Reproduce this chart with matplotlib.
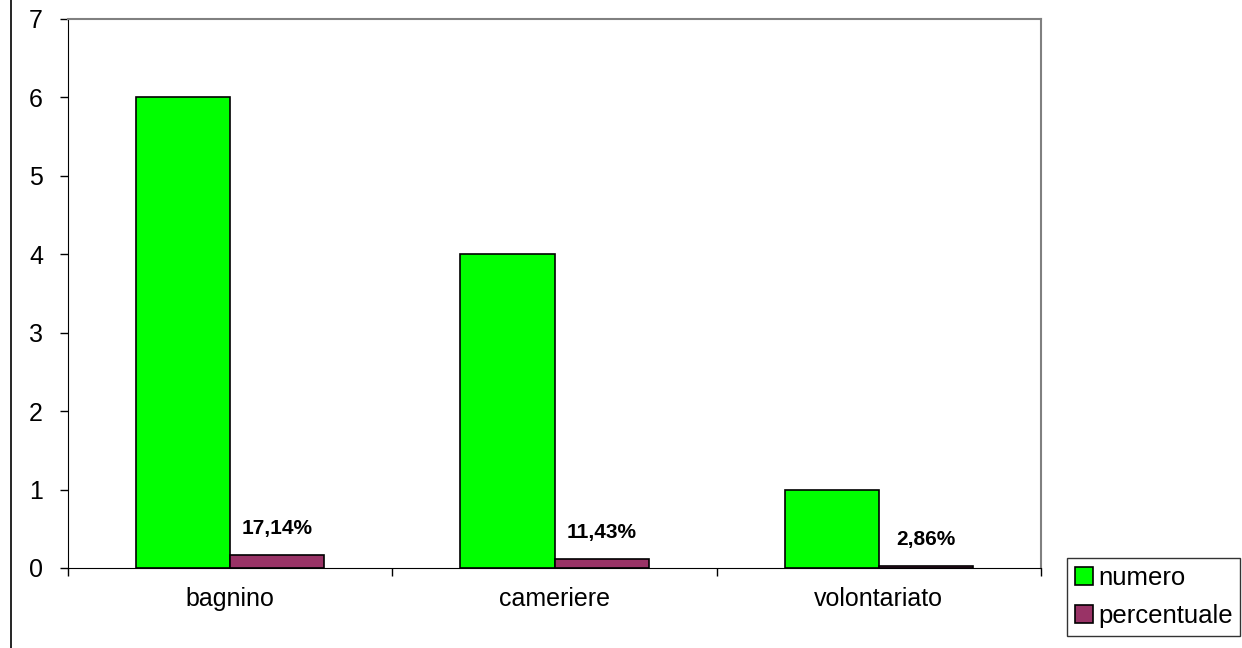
import numpy as np
import matplotlib.pyplot as plt
from matplotlib.lines import Line2D

categories = ['bagnino', 'cameriere', 'volontariato']
numero = [6, 4, 1]
percentuale = [0.1714, 0.1143, 0.0286]
perc_labels = ['17,14%', '11,43%', '2,86%']

plt.rcParams['font.family'] = ['Liberation Sans', 'DejaVu Sans']

fig = plt.figure(figsize=(12.42, 6.48), dpi=100)
ax = fig.add_axes([0.0548, 0.1235, 0.7834, 0.8472])

x = np.arange(len(categories))
w = 0.29
ax.bar(x - w / 2, numero, w, color='#00FF00', edgecolor='black', linewidth=1.2, label='numero')
bars = ax.bar(x + w / 2, percentuale, w, color='#993366', edgecolor='black', linewidth=1.2, label='percentuale')

for b, lab in zip(bars, perc_labels):
    ax.annotate(lab, (b.get_x() + b.get_width() / 2, b.get_height()),
                xytext=(0, 12), textcoords='offset points', ha='center', va='bottom',
                fontsize=15, fontweight='bold')

ax.set_xlim(-0.5, 2.5)
ax.set_ylim(0, 7)
ax.set_yticks(range(8))
ax.set_xticks(x)
ax.set_xticklabels(categories)
ax.set_xticks([-0.5, 0.5, 1.5, 2.5], minor=True)
ax.tick_params(axis='x', which='major', length=0, pad=14, labelsize=18)
ax.tick_params(axis='x', which='minor', length=6, direction='out', width=1)
ax.tick_params(axis='y', length=6, width=1, pad=12, labelsize=18)

ax.spines['top'].set_color('#808080')
ax.spines['right'].set_color('#808080')
ax.spines['top'].set_linewidth(1.5)
ax.spines['right'].set_linewidth(1.5)

leg = fig.legend(loc='lower right', bbox_to_anchor=(1.009, -0.001), fontsize=18.5,
                 frameon=True, fancybox=False, edgecolor='black', handlelength=0.7,
                 handleheight=0.7, handletextpad=0.2, labelspacing=0.55, borderpad=0.3)
leg.get_frame().set_linewidth(1)

fig.add_artist(Line2D([0.009, 0.009], [0, 1], color='black', linewidth=1.2, transform=fig.transFigure))

fig.savefig('out.png', dpi=100)
